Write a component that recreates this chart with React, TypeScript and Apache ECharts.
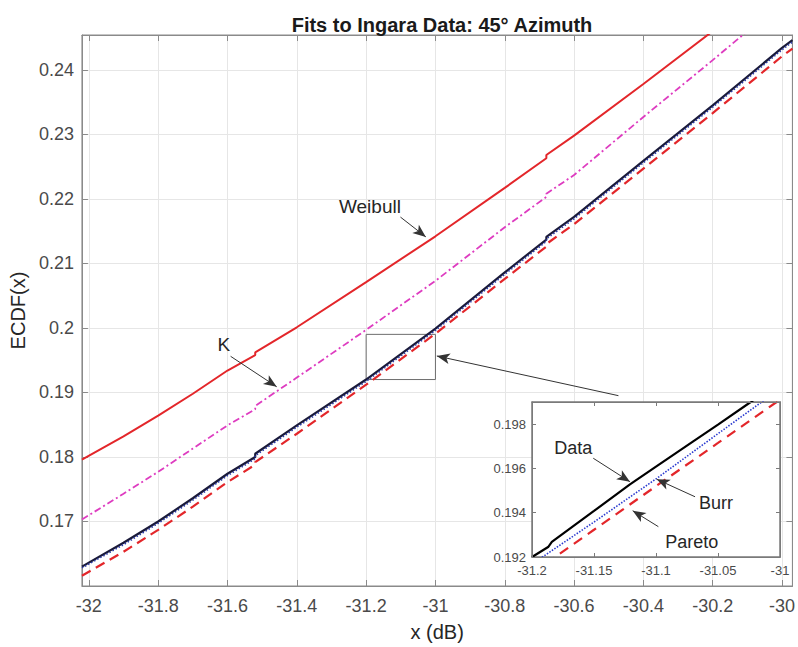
import React, { useEffect, useRef } from "react";
import * as echarts from "echarts";

// ---- Main plot data (x in dB, ECDF values) ----
const mainX = [-32.02, -31.9, -31.8, -31.7, -31.6, -31.52, -31.52, -31.4, -31.2, -31.0, -30.8, -30.68, -30.68, -30.6, -30.4, -30.2, -30.0, -29.97];
const weibull = [0.1796, 0.1832, 0.1864, 0.1898, 0.1934, 0.1958, 0.1962, 0.2001, 0.2071, 0.2142, 0.2217, 0.2263, 0.2268, 0.2298, 0.2378, 0.246, 0.2545, 0.2558];
const kDist = [0.1703, 0.1743, 0.1777, 0.1813, 0.1849, 0.1874, 0.1879, 0.1923, 0.1997, 0.2073, 0.2156, 0.2203, 0.2208, 0.2237, 0.2327, 0.2415, 0.2505, 0.2518];
const ecdfData = [0.163, 0.1667, 0.17, 0.1736, 0.1774, 0.18, 0.1805, 0.1849, 0.192, 0.1999, 0.2086, 0.2137, 0.2141, 0.2172, 0.2259, 0.2345, 0.2434, 0.2446];
const burr = [0.1628, 0.1664, 0.1697, 0.1733, 0.1771, 0.1797, 0.1802, 0.1846, 0.1917, 0.1996, 0.2083, 0.2134, 0.2138, 0.2169, 0.2256, 0.2342, 0.2431, 0.2443];
const pareto = [0.1616, 0.1653, 0.1687, 0.1723, 0.1761, 0.1788, 0.1792, 0.1836, 0.1912, 0.1991, 0.2076, 0.2126, 0.213, 0.2161, 0.2247, 0.2333, 0.2421, 0.2433];

// ---- Inset (zoomed) data ----
const insetDataX = [-31.2, -31.187, -31.184, -31.15, -31.121, -31.1, -31.07, -31.05, -31.0236, -31.0];
const insetDataY = [0.192, 0.19245, 0.19268, 0.19408, 0.19528, 0.19608, 0.19722, 0.19798, 0.199, 0.19992];
const insetBurrX = [-31.2, -31.15, -31.0994, -31.05, -31.0148, -31.0];
const insetBurrY = [0.19168, 0.19358, 0.19555, 0.19757, 0.199, 0.1996];
const insetParetoX = [-31.2, -31.1815, -31.15, -31.1, -31.05, -31.0027, -31.0];
const insetParetoY = [0.19128, 0.192, 0.19323, 0.1952, 0.19715, 0.199, 0.19911];

// ---- Axis ranges ----
const mainXRange = [-32.02, -29.97];
const mainYRange = [0.16, 0.2454];
const insetXRange = [-31.2, -31.0];
const insetYRange = [0.192, 0.199];

// ---- Annotations (data coordinates) ----
const mainTexts = [
  { name: "Weibull", at: [-31.189, 0.21877] },
  { name: "K", at: [-31.6106, 0.19743] },
];
const mainArrows = [
  [[-31.101, 0.21718], [-31.0277, 0.21411]],
  [[-31.591, 0.1956], [-31.458, 0.19088]],
  [[-30.472, 0.1895], [-30.996, 0.19565]],
];
const insetTexts = [
  { name: "Data", at: [-31.1667, 0.19691] },
  { name: "Burr", at: [-31.0516, 0.19443] },
  { name: "Pareto", at: [-31.0712, 0.19269] },
];
const insetArrows = [
  [[-31.1506, 0.19646], [-31.121, 0.1954]],
  [[-31.0685, 0.19472], [-31.0994, 0.19551]],
  [[-31.0981, 0.19337], [-31.1188, 0.19409]],
];

const FONT = "'Liberation Sans', Arial, Helvetica, sans-serif";
const LABEL_COLOR = "#4a4a4a";
const AXIS_COLOR = "#8a8a8a";

const zip = (xs: number[], ys: number[]) => xs.map((x, i) => [x, ys[i]]);

function arrowLines(arrows: number[][][]) {
  return arrows.map((a) => [{ coord: a[0] }, { coord: a[1] }]);
}
function textPoints(texts: { name: string; at: number[] }[], size: number) {
  return texts.map((t) => ({
    name: t.name,
    coord: t.at,
    label: { show: true, formatter: t.name, fontSize: size, color: "#262626", fontFamily: FONT },
  }));
}

export default function App() {
  const ref = useRef<HTMLDivElement>(null);
  useEffect(() => {
    if (!ref.current) return;
    const chart = echarts.init(ref.current, undefined, { renderer: "svg" });

    const arrowStyle = {
      silent: true,
      symbol: ["none", "arrow"],
      symbolSize: [8, 13],
      label: { show: false },
      lineStyle: { color: "#333", width: 1, type: "solid" },
      emphasis: { disabled: true },
    };
    const pointStyle = {
      silent: true,
      symbol: "circle",
      symbolSize: 1,
      itemStyle: { color: "rgba(0,0,0,0)" },
      label: { show: true, position: "inside" },
    };

    const option: any = {
      animation: false,
      backgroundColor: "#ffffff",
      textStyle: { fontFamily: FONT },
      title: {
        text: "Fits to Ingara Data: 45° Azimuth",
        left: 437,
        top: 10,
        textAlign: "center",
        textStyle: { fontSize: 20, fontWeight: "bold", color: "#1a1a1a", fontFamily: FONT },
      },
      grid: [
        { left: 80, top: 35, width: 717, height: 555, show: true, borderColor: AXIS_COLOR, borderWidth: 1, backgroundColor: "rgba(0,0,0,0)" },
        { left: 532, top: 402, width: 248, height: 155, show: true, borderColor: "#7a7a7a", borderWidth: 1.5, backgroundColor: "#ffffff", z: 3 },
      ],
      xAxis: [
        {
          gridIndex: 0, type: "value", position: "bottom",
          min: mainXRange[0], max: mainXRange[1], splitNumber: 10,
          axisLine: { show: true, onZero: false, lineStyle: { color: AXIS_COLOR } },
          axisTick: { show: true, inside: true, length: 6, lineStyle: { color: AXIS_COLOR } },
          axisLabel: { fontSize: 18, color: LABEL_COLOR, margin: 11, showMinLabel: false, showMaxLabel: false, fontFamily: FONT },
          splitLine: { show: true, lineStyle: { color: "#e6e6e6", width: 1 } },
          name: "x (dB)", nameLocation: "middle", nameGap: 36,
          nameTextStyle: { fontSize: 20, color: "#262626", fontFamily: FONT },
        },
        {
          gridIndex: 0, type: "value", position: "top",
          min: mainXRange[0], max: mainXRange[1], splitNumber: 10,
          axisLine: { show: true, onZero: false, lineStyle: { color: AXIS_COLOR } },
          axisTick: { show: true, inside: true, length: 6, lineStyle: { color: AXIS_COLOR } },
          axisLabel: { show: false },
          splitLine: { show: false },
        },
        {
          gridIndex: 1, type: "value", position: "bottom", z: 5,
          min: insetXRange[0], max: insetXRange[1], interval: 0.05,
          axisLine: { show: true, onZero: false, lineStyle: { color: "#7a7a7a" } },
          axisTick: { show: true, inside: true, length: 4, lineStyle: { color: "#7a7a7a" } },
          axisLabel: { fontSize: 13, color: LABEL_COLOR, margin: 7, fontFamily: FONT },
          splitLine: { show: false },
        },
        {
          gridIndex: 1, type: "value", position: "top", z: 5,
          min: insetXRange[0], max: insetXRange[1], interval: 0.05,
          axisLine: { show: true, onZero: false, lineStyle: { color: "#7a7a7a" } },
          axisTick: { show: true, inside: true, length: 4, lineStyle: { color: "#7a7a7a" } },
          axisLabel: { show: false },
          splitLine: { show: false },
        },
      ],
      yAxis: [
        {
          gridIndex: 0, type: "value", position: "left",
          min: mainYRange[0], max: mainYRange[1], interval: 0.01,
          axisLine: { show: true, onZero: false, lineStyle: { color: AXIS_COLOR } },
          axisTick: { show: true, inside: true, length: 6, lineStyle: { color: AXIS_COLOR } },
          axisLabel: { fontSize: 18, color: LABEL_COLOR, margin: 8, showMinLabel: false, showMaxLabel: false, fontFamily: FONT },
          splitLine: { show: true, lineStyle: { color: "#e6e6e6", width: 1 } },
          name: "ECDF(x)", nameLocation: "middle", nameGap: 45,
          nameTextStyle: { fontSize: 20, color: "#262626", fontFamily: FONT },
        },
        {
          gridIndex: 0, type: "value", position: "right",
          min: mainYRange[0], max: mainYRange[1], interval: 0.01,
          axisLine: { show: true, onZero: false, lineStyle: { color: AXIS_COLOR } },
          axisTick: { show: true, inside: true, length: 6, lineStyle: { color: AXIS_COLOR } },
          axisLabel: { show: false },
          splitLine: { show: false },
        },
        {
          gridIndex: 1, type: "value", position: "left", z: 5,
          min: insetYRange[0], max: insetYRange[1], interval: 0.002,
          axisLine: { show: true, onZero: false, lineStyle: { color: "#7a7a7a" } },
          axisTick: { show: true, inside: true, length: 4, lineStyle: { color: "#7a7a7a" } },
          axisLabel: { fontSize: 13, color: LABEL_COLOR, margin: 6, showMaxLabel: false, fontFamily: FONT },
          splitLine: { show: false },
        },
        {
          gridIndex: 1, type: "value", position: "right", z: 5,
          min: insetYRange[0], max: insetYRange[1], interval: 0.002,
          axisLine: { show: true, onZero: false, lineStyle: { color: "#7a7a7a" } },
          axisTick: { show: true, inside: true, length: 4, lineStyle: { color: "#7a7a7a" } },
          axisLabel: { show: false },
          splitLine: { show: false },
        },
      ],
      series: [
        {
          name: "Weibull", type: "line", xAxisIndex: 0, yAxisIndex: 0, z: 2,
          data: zip(mainX, weibull), showSymbol: false, symbol: "none", clip: true,
          lineStyle: { color: "#e3262a", width: 2 },
        },
        {
          name: "K", type: "line", xAxisIndex: 0, yAxisIndex: 0, z: 2,
          data: zip(mainX, kDist), showSymbol: false, symbol: "none", clip: true,
          lineStyle: { color: "#de3cc0", width: 1.8, type: [7, 3, 2, 3] },
        },
        {
          name: "Pareto", type: "line", xAxisIndex: 0, yAxisIndex: 0, z: 2,
          data: zip(mainX, pareto), showSymbol: false, symbol: "none", clip: true,
          lineStyle: { color: "#e3262a", width: 2.2, type: [10, 6] },
        },
        {
          name: "Data", type: "line", xAxisIndex: 0, yAxisIndex: 0, z: 2,
          data: zip(mainX, ecdfData), showSymbol: false, symbol: "none", clip: true,
          lineStyle: { color: "#1a1a3a", width: 2.2 },
          markArea: {
            silent: true,
            label: { show: false },
            itemStyle: { color: "rgba(0,0,0,0)", borderColor: "#6e6e6e", borderWidth: 1 },
            data: [[{ coord: [insetXRange[0], insetYRange[0]] }, { coord: [insetXRange[1], insetYRange[1]] }]],
          },
          markLine: { ...arrowStyle, data: arrowLines(mainArrows) },
          markPoint: { ...pointStyle, data: textPoints(mainTexts, 19) },
        },
        {
          name: "Burr", type: "line", xAxisIndex: 0, yAxisIndex: 0, z: 2,
          data: zip(mainX, burr), showSymbol: false, symbol: "none", clip: true,
          lineStyle: { color: "#2a3aa8", width: 1.5, type: [1.5, 2] },
        },
        // ---- inset ----
        {
          name: "Data (inset)", type: "line", xAxisIndex: 2, yAxisIndex: 2, z: 4,
          data: zip(insetDataX, insetDataY), showSymbol: false, symbol: "none", clip: true,
          lineStyle: { color: "#000000", width: 2.2 },
          markLine: { ...arrowStyle, data: arrowLines(insetArrows) },
          markPoint: { ...pointStyle, data: textPoints(insetTexts, 18) },
        },
        {
          name: "Burr (inset)", type: "line", xAxisIndex: 2, yAxisIndex: 2, z: 4,
          data: zip(insetBurrX, insetBurrY), showSymbol: false, symbol: "none", clip: true,
          lineStyle: { color: "#2a3ad0", width: 1.6, type: [1.5, 1.5] },
        },
        {
          name: "Pareto (inset)", type: "line", xAxisIndex: 2, yAxisIndex: 2, z: 4,
          data: zip(insetParetoX, insetParetoY), showSymbol: false, symbol: "none", clip: true,
          lineStyle: { color: "#e3262a", width: 2.2, type: [10, 7] },
        },
      ],
    };

    chart.setOption(option);
    return () => chart.dispose();
  }, []);

  return (
    <div
      ref={ref}
      style={{ position: "fixed", left: 0, top: 0, width: 798, height: 647, background: "#fff" }}
    />
  );
}
